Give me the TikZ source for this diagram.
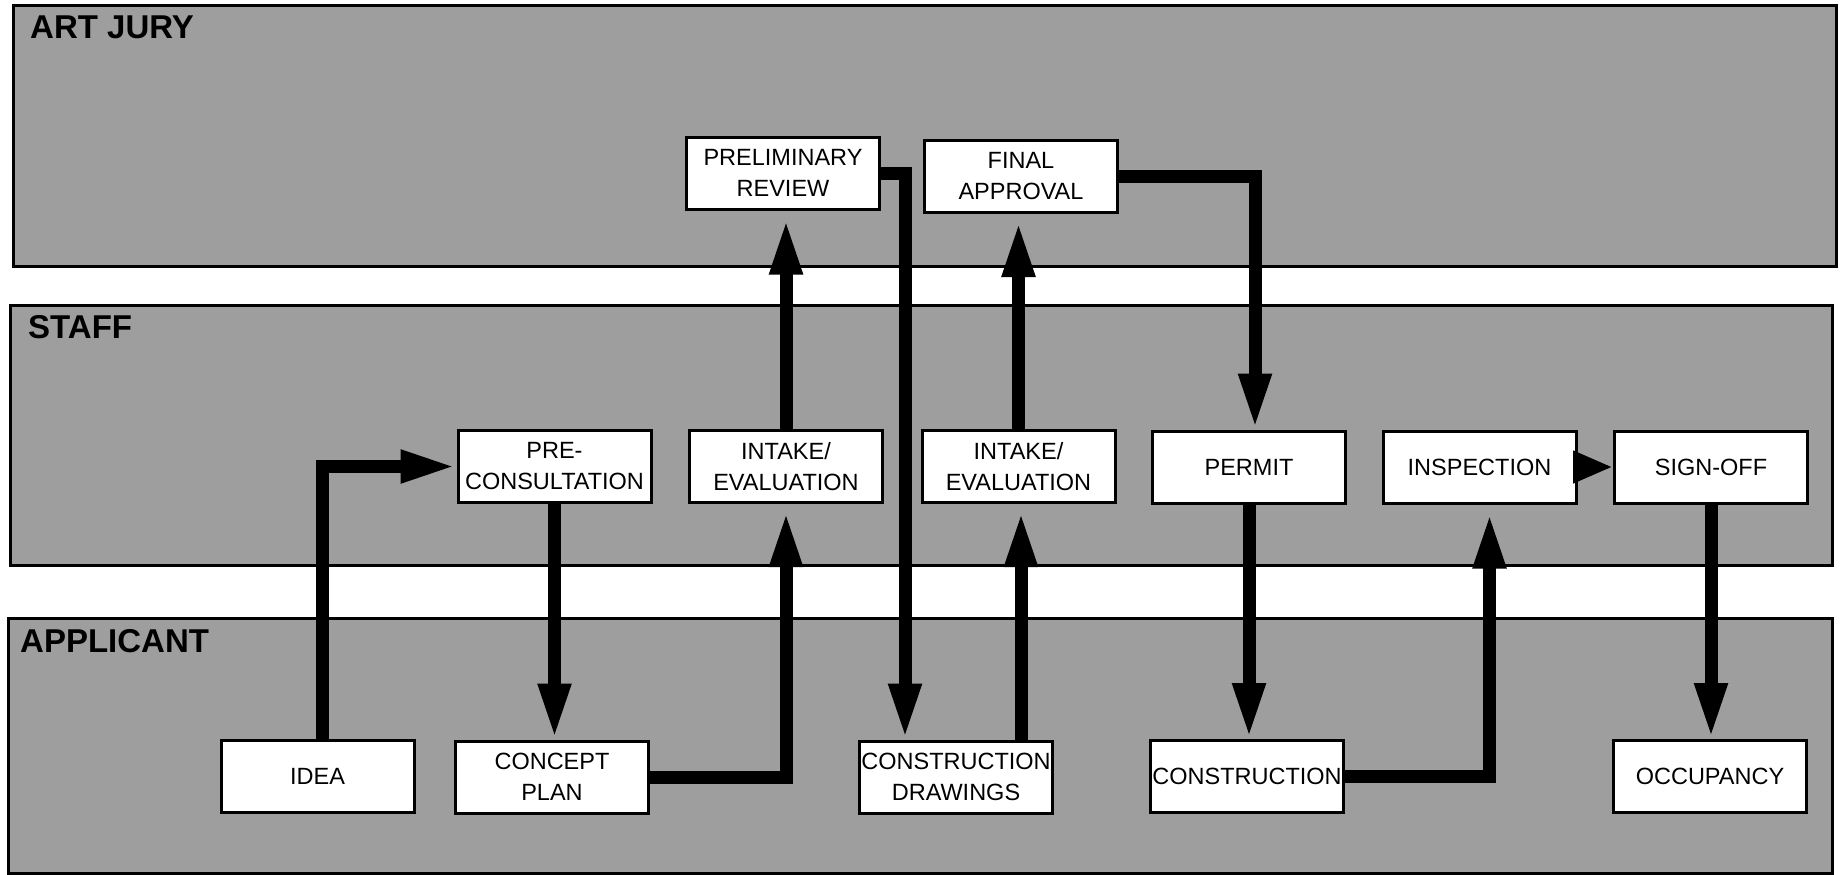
\documentclass[tikz,border=0pt]{standalone}
\usepackage{fontspec}
\setmainfont{Liberation Sans}
\usetikzlibrary{arrows.meta}
\begin{document}
\begin{tikzpicture}[x=1pt,y=-1pt,
  band/.style={draw=black,line width=3pt,fill=black!38},
  bandlabel/.style={anchor=base west,inner sep=0pt,font=\fontsize{33}{36}\selectfont\bfseries},
  box/.style={draw=black,line width=3pt,fill=white,minimum width=193pt,minimum height=72pt,
    inner sep=0pt,align=center,font=\fontsize{23.5}{31}\selectfont},
  flow/.style={line width=13pt,-{Triangle[length=56pt,width=30pt]}},
  shortflow/.style={line width=13pt,-{Triangle[length=40pt,width=30pt]}}]
\useasboundingbox (0,0) rectangle (1842,875);
\fill[white] (0,0) rectangle (1842,875);
% bands
\draw[band] (13,6) rectangle (1836,266);
\draw[band] (10,305) rectangle (1832,565);
\draw[band] (8,618) rectangle (1832,873);
\node[bandlabel] (ljury) at (30,39) {ART JURY};
\node[bandlabel] (lstaff) at (28,338) {STAFF};
\node[bandlabel] (lapp) at (20,652) {APPLICANT};
% boxes
\node[box] (idea) at (317.5,776.5) {IDEA};
\node[box] (concept) at (552,777) {CONCEPT\\PLAN};
\node[box] (precon) at (554.5,466.5) {PRE-\\CONSULTATION};
\node[box] (intake1) at (786,466.5) {INTAKE/\\EVALUATION};
\node[box] (prelim) at (783,173) {PRELIMINARY\\REVIEW};
\node[box] (fa) at (1021,176.5) {FINAL\\APPROVAL};
\node[box] (intake2) at (1018.5,466.5) {INTAKE/\\EVALUATION};
\node[box] (cdraw) at (956,777) {CONSTRUCTION\\DRAWINGS};
\node[box] (permit) at (1249,467) {PERMIT};
\node[box] (inspection) at (1479.5,467) {INSPECTION};
\node[box] (signoff) at (1711,467) {SIGN-OFF};
\node[box] (construction) at (1247,776.5) {CONSTRUCTION};
\node[box] (occupancy) at (1710,776.5) {OCCUPANCY};
% connectors
\draw[flow] ([xshift=5pt]idea.north) |- (precon.west);
\draw[flow] (precon.south) -- (precon.south |- concept.north);
\draw[flow,shorten >=7pt] (concept.east) -| (intake1.south);
\draw[flow,shorten >=8pt] (intake1.north) -- (intake1.north |- prelim.south);
\draw[flow] (prelim.east) -| ([xshift=-51pt]cdraw.north);
\draw[flow,shorten >=7pt] (intake2.north) -- (intake2.north |- fa.south);
\draw[flow,shorten >=7pt] ([xshift=65pt]cdraw.north) -- ([xshift=65pt]cdraw.north |- intake2.south);
\draw[flow] (fa.east) -| ([xshift=6pt]permit.north);
\draw[flow] (permit.south) -- (permit.south |- construction.north);
\draw[flow,shorten >=8pt] (construction.east) -| ([xshift=10pt]inspection.south);
\draw[shortflow] (inspection.east) -- (signoff.west);
\draw[flow] (signoff.south) -- (signoff.south |- occupancy.north);
\end{tikzpicture}
\end{document}
